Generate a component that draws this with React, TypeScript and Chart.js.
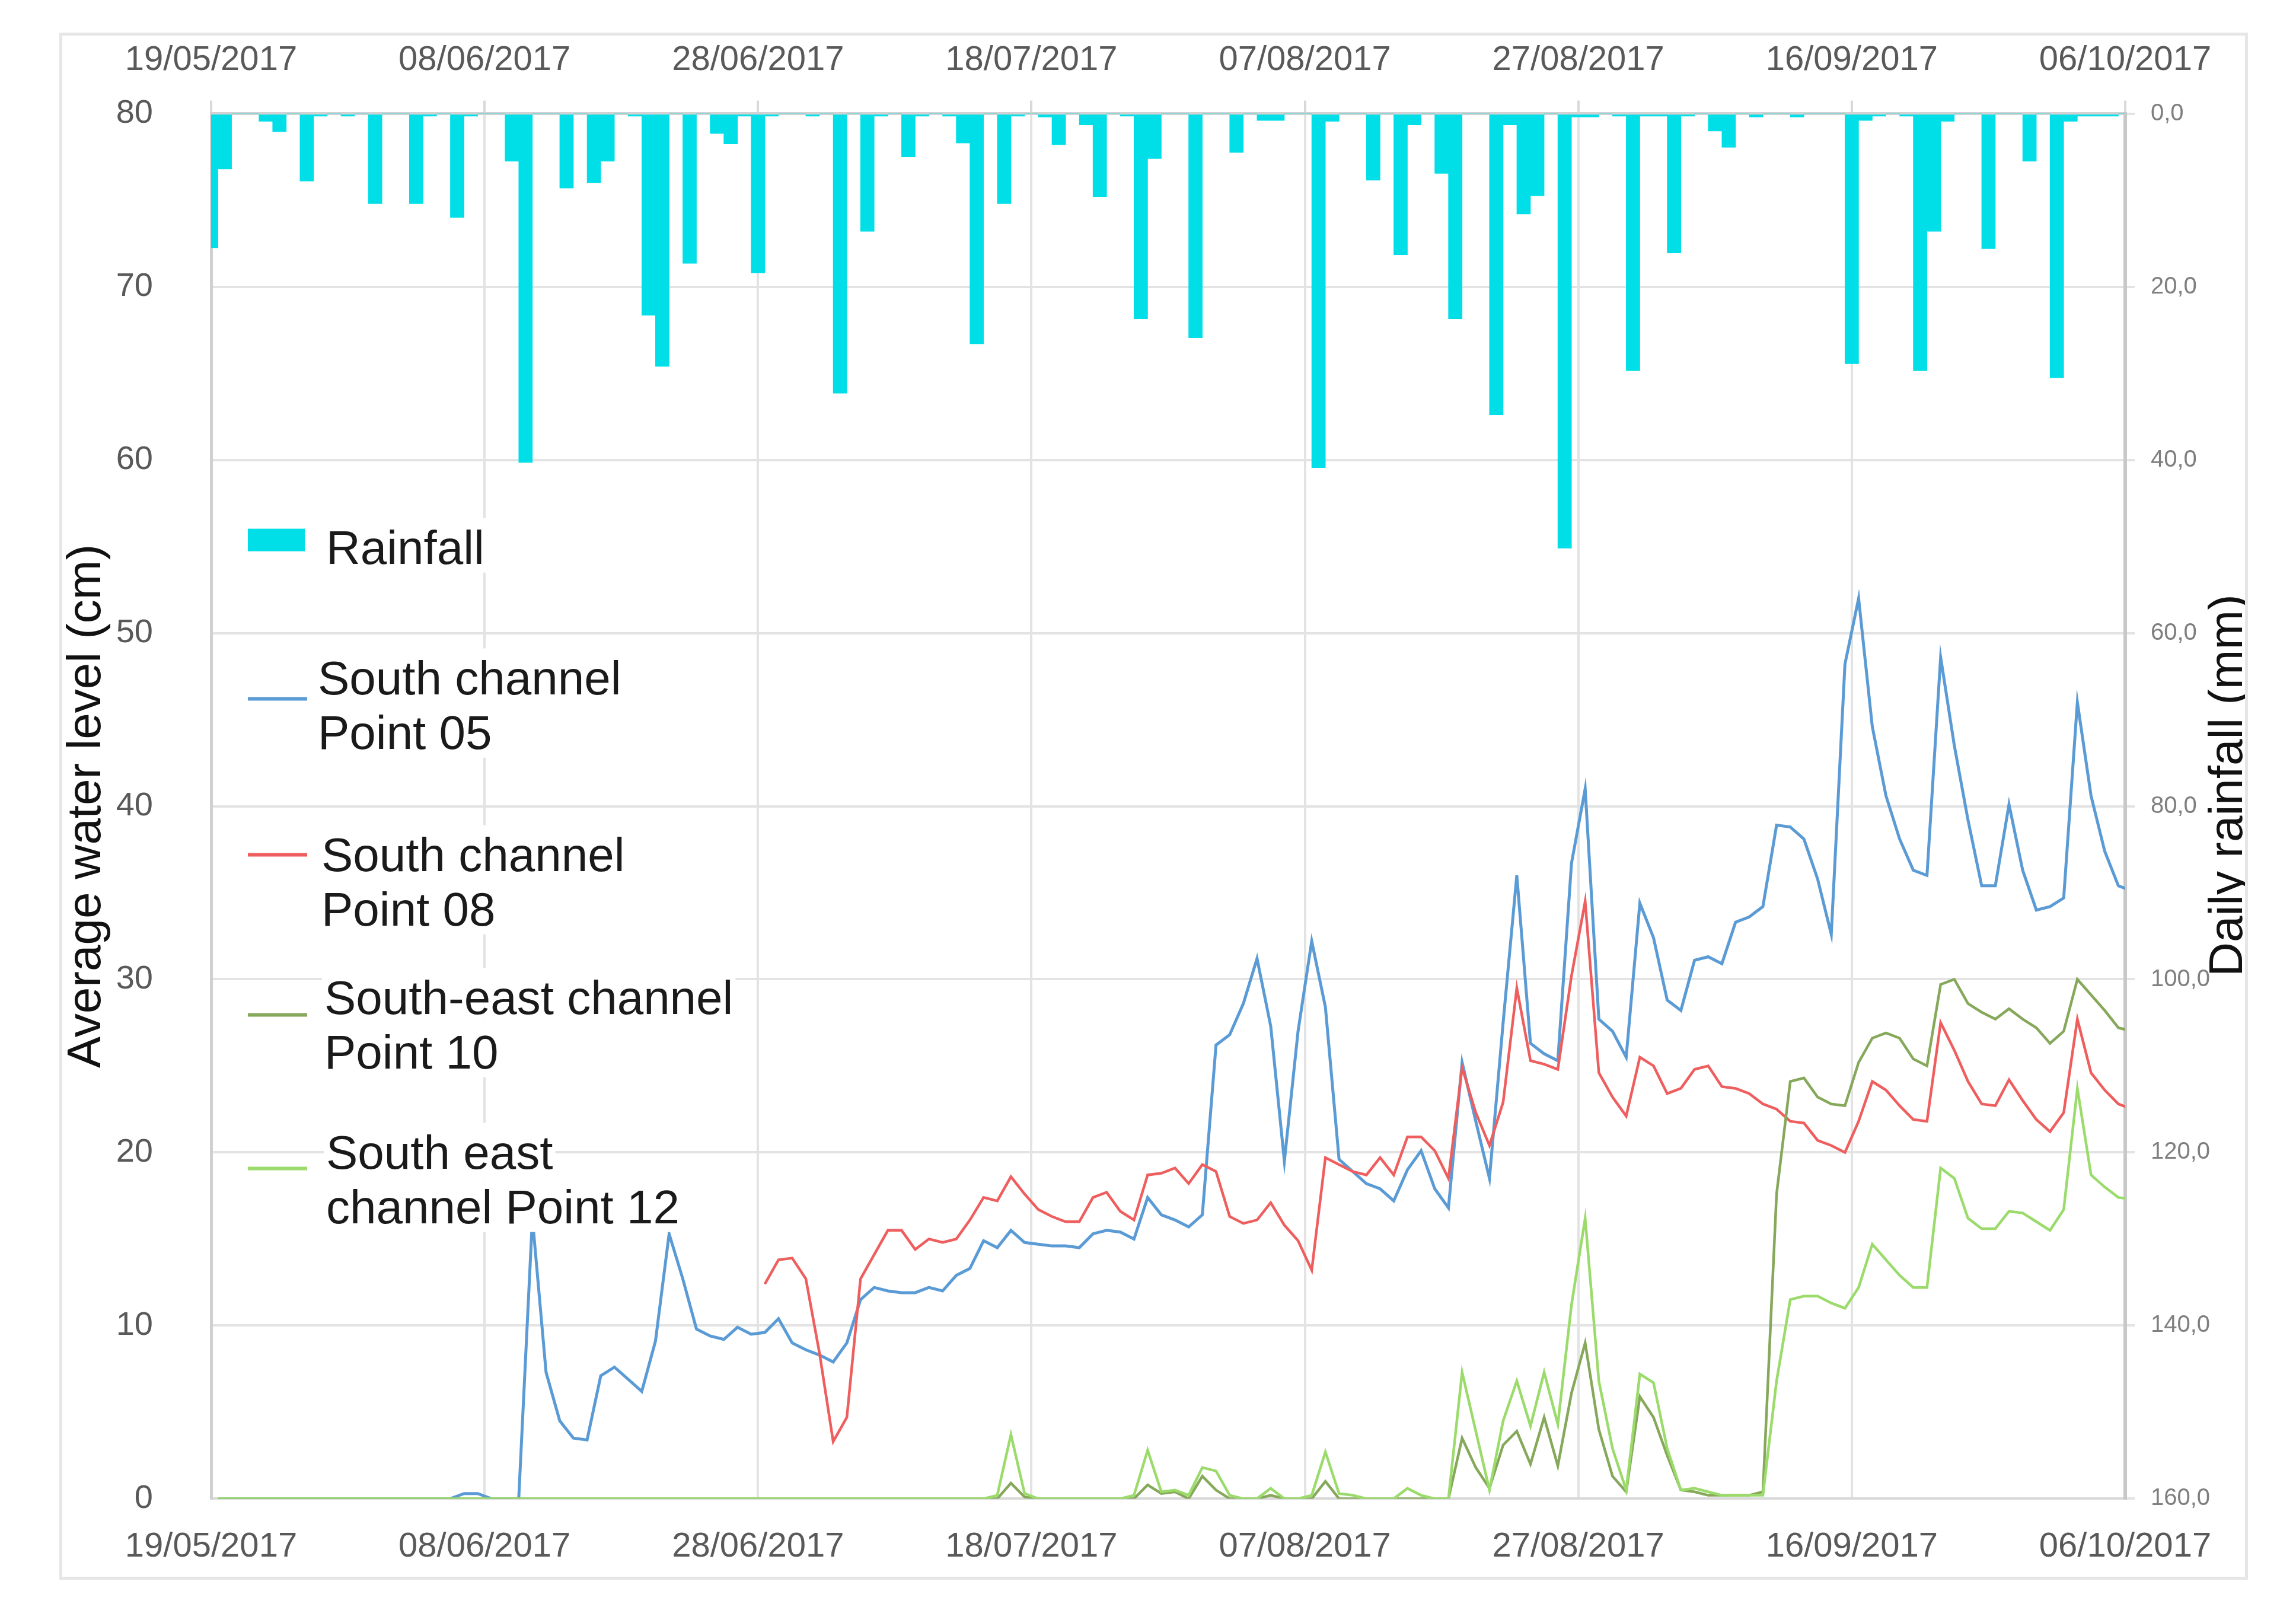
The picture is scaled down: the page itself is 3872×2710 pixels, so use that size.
import { useEffect, useRef } from 'react';
import { Chart, registerables } from 'chart.js';
import type { Plugin } from 'chart.js';

Chart.register(...registerables);

const FONT = '"Liberation Sans", Arial, sans-serif';

// tick labels: one every 20 days starting 19/05/2017
const dateTicks = [
  '19/05/2017', '08/06/2017', '28/06/2017', '18/07/2017',
  '07/08/2017', '27/08/2017', '16/09/2017', '06/10/2017',
];
const rainTicks = ['0,0', '20,0', '40,0', '60,0', '80,0', '100,0', '120,0', '140,0', '160,0'];

// daily rainfall (mm), index 0 = 19/05/2017
const rainfall = [
  15.5, 6.4, 0, 0, 0.9, 2.1, 0, 7.8, 0.3, 0, // 0
  0.3, 0, 10.4, 0, 0, 10.4, 0.3, 0, 12.0, 0.3, // 10
  0, 0, 5.5, 40.3, 0, 0, 8.6, 0, 8.0, 5.5, // 20
  0, 0.3, 23.3, 29.2, 0, 17.3, 0, 2.3, 3.5, 0.3, // 30
  18.4, 0.3, 0, 0, 0.3, 0, 32.3, 0, 13.6, 0.3, // 40
  0, 5.0, 0.3, 0, 0.3, 3.4, 26.6, 0, 10.4, 0.3, // 50
  0, 0.4, 3.6, 0, 1.3, 9.6, 0, 0.3, 23.7, 5.2, // 60
  0, 0, 25.9, 0, 0, 4.5, 0, 0.8, 0.8, 0, // 70
  0, 40.9, 0.9, 0, 0, 7.7, 0, 16.3, 1.3, 0, // 80
  6.9, 23.7, 0, 0, 34.8, 1.3, 11.6, 9.5, 0, 50.2, // 90
  0.4, 0.4, 0, 0.3, 29.7, 0.3, 0.3, 16.1, 0.3, 0, // 100
  2.0, 3.9, 0, 0.4, 0, 0, 0.4, 0, 0, 0, // 110
  28.9, 0.8, 0.3, 0, 0.3, 29.7, 13.6, 0.9, 0, 0, // 120
  15.6, 0, 0, 5.5, 0, 30.5, 0.9, 0.3, 0.3, 0.3, // 130
  0, // 140
];

// average water level (cm)
const point05 = [
  0, 0, 0, 0, 0, 0, 0, 0, 0, 0, // 0
  0, 0, 0, 0, 0, 0, 0, 0, 0.3, 0.3, // 10
  0, 0, 0, 16.2, 7.3, 4.5, 3.5, 3.4, 7.1, 7.6, // 20
  6.9, 6.2, 9.1, 15.3, 12.7, 9.8, 9.4, 9.2, 9.9, 9.5, // 30
  9.6, 10.4, 9.0, 8.6, 8.3, 7.9, 9.0, 11.5, 12.2, 12.0, // 40
  11.9, 11.9, 12.2, 12.0, 12.9, 13.3, 14.9, 14.5, 15.5, 14.8, // 50
  14.7, 14.6, 14.6, 14.5, 15.3, 15.5, 15.4, 15.0, 17.4, 16.4, // 60
  16.1, 15.7, 16.4, 26.2, 26.8, 28.6, 31.2, 27.3, 19.5, 27.0, // 70
  32.2, 28.4, 19.6, 18.9, 18.2, 17.9, 17.2, 19.0, 20.1, 17.9, // 80
  16.8, 25.2, 21.8, 18.5, 27.5, 36.0, 26.3, 25.7, 25.3, 36.7, // 90
  41.0, 27.7, 27.0, 25.5, 34.4, 32.4, 28.8, 28.2, 31.1, 31.3, // 100
  30.9, 33.3, 33.6, 34.2, 38.9, 38.8, 38.1, 35.8, 32.6, 48.2, // 110
  52.0, 44.6, 40.6, 38.1, 36.3, 36.0, 48.6, 43.5, 39.2, 35.4, // 120
  35.4, 40.1, 36.3, 34.0, 34.2, 34.7, 46.0, 40.6, 37.4, 35.4, // 130
  35.1, // 140
];

const point08 = [
  null, null, null, null, null, null, null, null, null, null, // 0
  null, null, null, null, null, null, null, null, null, null, // 10
  null, null, null, null, null, null, null, null, null, null, // 20
  null, null, null, null, null, null, null, null, null, null, // 30
  12.4, 13.8, 13.9, 12.7, 8.4, 3.3, 4.7, 12.7, 14.1, 15.5, // 40
  15.5, 14.4, 15.0, 14.8, 15.0, 16.1, 17.4, 17.2, 18.6, 17.6, // 50
  16.7, 16.3, 16.0, 16.0, 17.4, 17.7, 16.6, 16.1, 18.7, 18.8, // 60
  19.1, 18.2, 19.3, 18.9, 16.3, 15.9, 16.1, 17.1, 15.8, 14.9, // 70
  13.2, 19.7, 19.3, 18.9, 18.7, 19.7, 18.7, 20.9, 20.9, 20.1, // 80
  18.5, 24.9, 22.3, 20.4, 22.9, 29.5, 25.3, 25.1, 24.8, 30.2, // 90
  34.5, 24.6, 23.2, 22.1, 25.5, 25.0, 23.4, 23.7, 24.8, 25.0, // 100
  23.8, 23.7, 23.4, 22.8, 22.5, 21.8, 21.7, 20.7, 20.4, 20.0, // 110
  21.8, 24.1, 23.6, 22.7, 21.9, 21.8, 27.5, 25.9, 24.1, 22.8, // 120
  22.7, 24.2, 23.0, 21.9, 21.2, 22.3, 27.7, 24.6, 23.6, 22.8, // 130
  22.5, // 140
];

const point10 = [
  0, 0, 0, 0, 0, 0, 0, 0, 0, 0, // 0
  0, 0, 0, 0, 0, 0, 0, 0, 0, 0, // 10
  0, 0, 0, 0, 0, 0, 0, 0, 0, 0, // 20
  0, 0, 0, 0, 0, 0, 0, 0, 0, 0, // 30
  0, 0, 0, 0, 0, 0, 0, 0, 0, 0, // 40
  0, 0, 0, 0, 0, 0, 0, 0, 0.9, 0.1, // 50
  0, 0, 0, 0, 0, 0, 0, 0, 0.8, 0.3, // 60
  0.4, 0, 1.3, 0.5, 0, 0, 0, 0.2, 0, 0, // 70
  0, 1.0, 0, 0, 0, 0, 0, 0, 0, 0, // 80
  0, 3.5, 1.8, 0.6, 3.1, 3.9, 2.0, 4.7, 1.9, 6.1, // 90
  9.0, 4.0, 1.3, 0.4, 5.9, 4.7, 2.5, 0.5, 0.4, 0.2, // 100
  0.2, 0.2, 0.2, 0.4, 17.6, 24.1, 24.3, 23.2, 22.8, 22.7, // 110
  25.2, 26.6, 26.9, 26.6, 25.4, 25.0, 29.7, 30.0, 28.6, 28.1, // 120
  27.7, 28.3, 27.7, 27.2, 26.3, 27.0, 30.0, 29.1, 28.2, 27.2, // 130
  27.0, // 140
];

const point12 = [
  0, 0, 0, 0, 0, 0, 0, 0, 0, 0, // 0
  0, 0, 0, 0, 0, 0, 0, 0, 0, 0, // 10
  0, 0, 0, 0, 0, 0, 0, 0, 0, 0, // 20
  0, 0, 0, 0, 0, 0, 0, 0, 0, 0, // 30
  0, 0, 0, 0, 0, 0, 0, 0, 0, 0, // 40
  0, 0, 0, 0, 0, 0, 0, 0.2, 3.7, 0.3, // 50
  0, 0, 0, 0, 0, 0, 0, 0.2, 2.8, 0.4, // 60
  0.5, 0.2, 1.8, 1.6, 0.2, 0, 0, 0.6, 0, 0, // 70
  0.2, 2.7, 0.3, 0.2, 0, 0, 0, 0.6, 0.2, 0, // 80
  0, 7.3, 3.9, 0.5, 4.5, 6.8, 4.2, 7.3, 4.3, 11.2, // 90
  16.2, 6.8, 2.9, 0.5, 7.2, 6.7, 2.9, 0.5, 0.6, 0.4, // 100
  0.2, 0.2, 0.2, 0.2, 6.8, 11.5, 11.7, 11.7, 11.3, 11.0, // 110
  12.2, 14.7, 13.8, 12.9, 12.2, 12.2, 19.1, 18.5, 16.2, 15.6, // 120
  15.6, 16.6, 16.5, 16.0, 15.5, 16.7, 23.7, 18.7, 18.0, 17.4, // 130
  17.3, // 140
];

const RAIN = '#00dee7';
const BLUE = '#5b9bd5';
const RED = '#ef5e5e';
const OLIVE = '#86a85a';
const LIME = '#9bdb6b';

// the level readings sit half a day to the right of the rain bars
const LINE_SHIFT = 0.5;

const legendItems = [
  { label: ['Rainfall'], color: RAIN, box: true },
  { label: ['South channel', 'Point 05'], color: BLUE, box: false },
  { label: ['South channel', 'Point 08'], color: RED, box: false },
  { label: ['South-east channel', 'Point 10'], color: OLIVE, box: false },
  { label: ['South east', 'channel Point 12'], color: LIME, box: false },
];

// offsets from the plot area's top-left corner
const legendLayout = [
  { sym: 719, text: 730, tx: 194 },
  { sym: 987, text: 950, tx: 180 },
  { sym: 1250, text: 1248, tx: 186 },
  { sym: 1520, text: 1489, tx: 191 },
  { sym: 1779, text: 1750, tx: 194 },
];

const overlay: Plugin = {
  id: 'overlay',
  afterDatasetsDraw(chart) {
    const { ctx, chartArea: a } = chart;
    ctx.save();
    ctx.font = `80px ${FONT}`;
    ctx.textAlign = 'left';
    ctx.textBaseline = 'alphabetic';

    // white boxes behind the legend text hide the grid
    legendItems.forEach((item, i) => {
      const p = legendLayout[i];
      item.label.forEach((t, k) => {
        const cy = a.top + p.text + k * 92;
        ctx.fillStyle = '#ffffff';
        ctx.fillRect(a.left + p.tx - 4, cy - 48, ctx.measureText(t).width + 8, 92);
      });
    });

    legendItems.forEach((item, i) => {
      const p = legendLayout[i];
      const sy = a.top + p.sym;
      if (item.box) {
        ctx.fillStyle = item.color;
        ctx.fillRect(a.left + 62, sy - 19, 96, 38);
      } else {
        ctx.strokeStyle = item.color;
        ctx.lineWidth = 6;
        ctx.beginPath();
        ctx.moveTo(a.left + 62, sy);
        ctx.lineTo(a.left + 162, sy);
        ctx.stroke();
      }
      ctx.fillStyle = '#1a1a1a';
      item.label.forEach((t, k) => {
        ctx.fillText(t, a.left + p.tx, a.top + p.text + k * 92 + 29);
      });
    });

    // right axis title reads upwards, same as the left one
    ctx.translate(a.right + 175, (a.top + a.bottom) / 2 - 35);
    ctx.rotate(-Math.PI / 2);
    ctx.textAlign = 'center';
    ctx.textBaseline = 'middle';
    ctx.fillStyle = '#111111';
    ctx.fillText('Daily rainfall (mm)', 0, 0);
    ctx.restore();
  },
};

const dateLabel = (v: number | string) => dateTicks[Math.round(Number(v) / 20)] ?? '';

export default function App() {
  const canvasRef = useRef<HTMLCanvasElement>(null);
  const chartRef = useRef<Chart | null>(null);

  useEffect(() => {
    if (!canvasRef.current) return;
    if (chartRef.current) chartRef.current.destroy();

    const level = (arr: (number | null)[]) => arr.map((v, i) => ({ x: i + LINE_SHIFT, y: v }));

    chartRef.current = new Chart(canvasRef.current, {
      type: 'line',
      data: {
        datasets: [
          {
            type: 'line',
            label: 'South east channel Point 12',
            data: level(point12),
            borderColor: LIME,
            borderWidth: 4.5,
            pointRadius: 0,
            tension: 0,
            yAxisID: 'y',
            order: 0,
          },
          {
            type: 'line',
            label: 'South-east channel Point 10',
            data: level(point10),
            borderColor: OLIVE,
            borderWidth: 4.5,
            pointRadius: 0,
            tension: 0,
            yAxisID: 'y',
            order: 1,
          },
          {
            type: 'line',
            label: 'South channel Point 08',
            data: level(point08),
            borderColor: RED,
            borderWidth: 4.5,
            pointRadius: 0,
            tension: 0,
            yAxisID: 'y',
            order: 2,
          },
          {
            type: 'line',
            label: 'South channel Point 05',
            data: level(point05),
            borderColor: BLUE,
            borderWidth: 5,
            pointRadius: 0,
            tension: 0,
            yAxisID: 'y',
            order: 3,
          },
          {
            type: 'bar',
            label: 'Rainfall',
            data: rainfall.map((v, i) => ({ x: i, y: v })),
            backgroundColor: RAIN,
            borderWidth: 0,
            barPercentage: 1,
            categoryPercentage: 1,
            yAxisID: 'y1',
            order: 4,
            clip: 0,
          },
        ],
      },
      options: {
        animation: false,
        responsive: true,
        maintainAspectRatio: false,
        events: [],
        layout: { padding: 0 },
        plugins: {
          legend: { display: false },
          tooltip: { enabled: false },
        },
        scales: {
          x: {
            type: 'linear',
            position: 'bottom',
            min: 0,
            max: 140,
            offset: false,
            afterFit: (s) => { s.height = 123; },
            ticks: {
              stepSize: 20,
              autoSkip: false,
              maxRotation: 0,
              padding: 47,
              color: '#595959',
              font: { family: FONT, size: 58 },
              callback: dateLabel,
            },
            grid: { offset: false, color: '#e3e3e3', lineWidth: 4, drawTicks: false },
            border: { display: true, color: '#d9d9d9', width: 4 },
          },
          x2: {
            type: 'linear',
            axis: 'x',
            position: 'top',
            min: 0,
            max: 140,
            offset: false,
            afterFit: (s) => { s.height = 122; },
            ticks: {
              stepSize: 20,
              autoSkip: false,
              maxRotation: 0,
              padding: 33,
              color: '#595959',
              font: { family: FONT, size: 58 },
              callback: dateLabel,
            },
            grid: {
              offset: false,
              drawOnChartArea: false,
              drawTicks: true,
              tickLength: 22,
              color: '#d9d9d9',
              lineWidth: 4,
            },
            border: { display: true, color: '#d2d2d2', width: 5 },
          },
          y: {
            type: 'linear',
            position: 'left',
            min: 0,
            max: 80,
            afterFit: (s) => { s.width = 251; },
            ticks: {
              stepSize: 10,
              padding: 98,
              color: '#595959',
              font: { family: FONT, size: 56 },
            },
            grid: { color: '#e3e3e3', lineWidth: 4, drawTicks: false },
            border: { display: true, color: '#d0d0d0', width: 5 },
            title: {
              display: true,
              text: 'Average water level (cm)',
              color: '#111111',
              font: { family: FONT, size: 80 },
              padding: { top: -6, bottom: 0 },
            },
          },
          y1: {
            type: 'linear',
            position: 'right',
            min: 0,
            max: 160,
            reverse: true,
            afterFit: (s) => { s.width = 202; },
            ticks: {
              stepSize: 20,
              padding: 27,
              color: '#7f7f7f',
              font: { family: FONT, size: 40 },
              callback: (v) => rainTicks[Math.round(Number(v) / 20)] ?? '',
            },
            grid: {
              drawOnChartArea: false,
              drawTicks: true,
              tickLength: 16,
              color: '#e3e3e3',
              lineWidth: 4,
            },
            border: { display: true, color: '#c8c8c8', width: 6 },
          },
        },
      },
      plugins: [overlay],
    });

    return () => {
      if (chartRef.current) {
        chartRef.current.destroy();
        chartRef.current = null;
      }
    };
  }, []);

  return (
    <div
      style={{
        position: 'absolute',
        left: 100,
        top: 55,
        width: 3691,
        height: 2609,
        boxSizing: 'border-box',
        border: '5px solid #e6e6e6',
        background: '#ffffff',
      }}
    >
      <div style={{ position: 'relative', width: 3681, height: 2599 }}>
        <canvas ref={canvasRef} />
      </div>
    </div>
  );
}
